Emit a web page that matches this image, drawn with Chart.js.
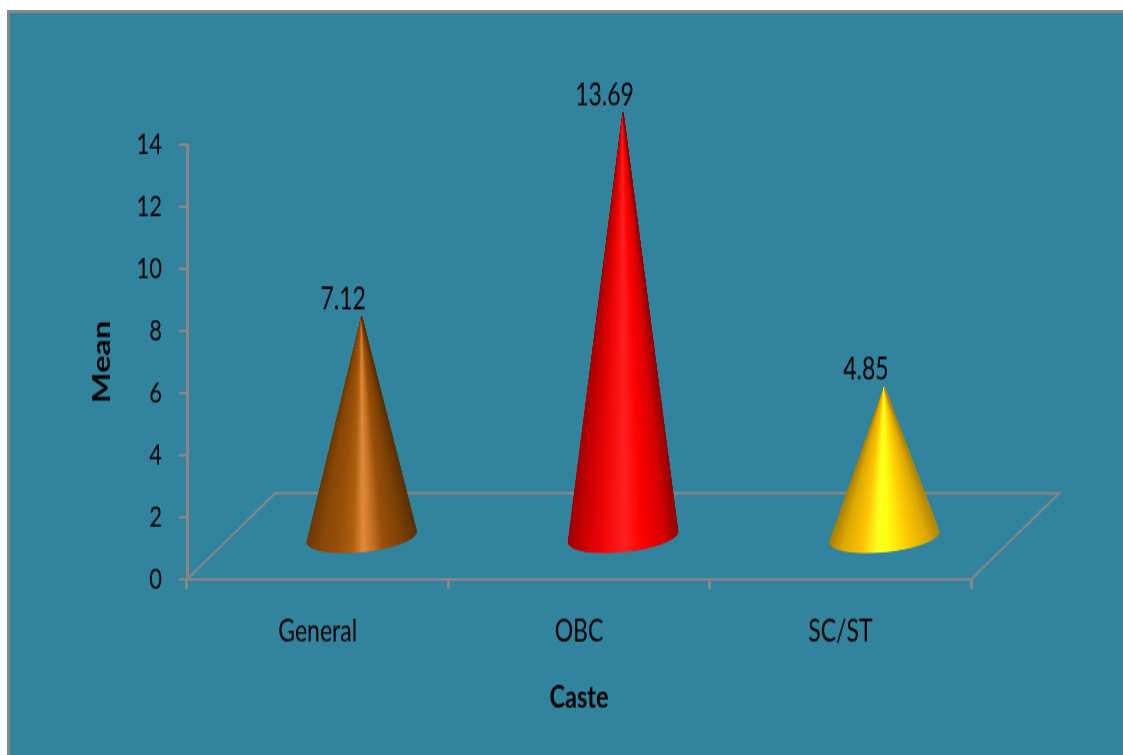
<!DOCTYPE html>
<html>
<head>
<meta charset="utf-8">
<title>Mean by caste</title>
<script src="https://cdn.jsdelivr.net/npm/chart.js@4"></script>
<style>
    html, body { margin: 0; padding: 0; background: #fff; overflow: hidden; }
    #panel {
        position: absolute; left: 7px; top: 10px; right: 0; bottom: 0;
        background: #31839e;
        border-left: 3px solid #868686;
        border-top: 3px solid #868686;
    }
    /* the whole chart is drawn wide and then pulled taller */
    #chart { position: absolute; left: 0; top: 0; transform: scaleY(1.3506); transform-origin: 0 0; }
</style>
</head>
<body>
<div id="panel"></div>
<canvas id="chart" width="1123" height="559"></canvas>
<script>
const categories = ['General', 'OBC', 'SC/ST'];
const means = [7.12, 13.69, 4.85];
const yMax = 14;
const yStep = 2;

const AXIS_COLOR = '#868686';
const FONT = 'Lato, sans-serif';

// shading across each cone, left edge to right edge
const coneRamps = [
    [[0, '#6e3803'], [0.12, '#8a4706'], [0.3, '#9c5008'], [0.42, '#b0600f'], [0.52, '#e08a3a'], [0.6, '#c87222'], [0.7, '#9c5008'], [0.88, '#7d4005'], [1, '#5f3002']],
    [[0, '#a00000'], [0.15, '#d00000'], [0.35, '#f80808'], [0.52, '#ff2020'], [0.68, '#ff0000'], [0.88, '#d80000'], [1, '#980000']],
    [[0, '#a88000'], [0.12, '#e0a800'], [0.3, '#ffc400'], [0.44, '#ffff20'], [0.54, '#ffff10'], [0.72, '#ffcc00'], [0.9, '#e0a800'], [1, '#b08800']]
];

function hexToRgb(hex) {
    return [1, 3, 5].map(i => parseInt(hex.slice(i, i + 2), 16));
}

function rampColor(ramp, u) {
    let i = 1;
    while (i < ramp.length - 1 && ramp[i][0] < u) i++;
    const [u0, c0] = ramp[i - 1];
    const [u1, c1] = ramp[i];
    const k = Math.min(1, Math.max(0, (u - u0) / (u1 - u0)));
    const a = hexToRgb(c0), b = hexToRgb(c1);
    return `rgb(${a.map((v, n) => Math.round(v + (b[n] - v) * k)).join(',')})`;
}

// the floor sits behind the axes; cones stand about half way back on it
function floorDepth(chart) {
    const band = chart.scales.x.width / categories.length;
    return { dx: band * 0.337, dy: chart.scales.y.height * 0.198 };
}

const floorPlugin = {
    id: 'floor',
    beforeDatasetsDraw(chart) {
        const { ctx, chartArea: a } = chart;
        const d = floorDepth(chart);
        ctx.save();
        ctx.strokeStyle = AXIS_COLOR;
        ctx.lineWidth = 2;
        ctx.beginPath();
        ctx.moveTo(a.left, a.bottom);
        ctx.lineTo(a.left + d.dx, a.bottom - d.dy);
        ctx.lineTo(a.right + d.dx, a.bottom - d.dy);
        ctx.lineTo(a.right, a.bottom);
        ctx.stroke();
        ctx.restore();
    }
};

const conePlugin = {
    id: 'cones',
    afterDatasetsDraw(chart) {
        const { ctx } = chart;
        const d = floorDepth(chart);
        const bars = chart.getDatasetMeta(0).data;
        const tilt = -0.074;
        bars.forEach((bar, i) => {
            const lift = d.dy * 0.48;
            const cx = bar.x + d.dx / 2;
            const cy = bar.base - lift;
            const tipY = bar.y - lift;
            const rx = bar.width / 2;
            const ry = rx * 0.2;
            const ramp = coneRamps[i];
            const steps = 70;
            const pointAt = t => {
                const ex = rx * Math.cos(t), ey = ry * Math.sin(t);
                return [cx + ex * Math.cos(tilt) - ey * Math.sin(tilt),
                        cy + ex * Math.sin(tilt) + ey * Math.cos(tilt)];
            };
            // thin slices from the tip to the near half of the base
            ctx.save();
            for (let s = 0; s < steps; s++) {
                const t0 = Math.PI - Math.PI * s / steps;
                const t1 = Math.PI - Math.PI * (s + 1) / steps;
                const p0 = pointAt(t0), p1 = pointAt(t1);
                const u = ((p0[0] + p1[0]) / 2 - (cx - rx)) / (2 * rx);
                const col = rampColor(ramp, u);
                ctx.fillStyle = col;
                ctx.strokeStyle = col;
                ctx.lineWidth = 1;
                ctx.beginPath();
                ctx.moveTo(cx, tipY);
                ctx.lineTo(p0[0], p0[1]);
                ctx.lineTo(p1[0], p1[1]);
                ctx.closePath();
                ctx.fill();
                ctx.stroke();
            }
            ctx.restore();

            // value above the tip
            ctx.save();
            ctx.fillStyle = '#000';
            ctx.font = `23px ${FONT}`;
            ctx.textAlign = 'center';
            ctx.textBaseline = 'middle';
            ctx.fillText(means[i].toFixed(2), cx - 18.5, tipY - 13);
            ctx.restore();
        });
    }
};

new Chart(document.getElementById('chart').getContext('2d'), {
    type: 'bar',
    data: {
        labels: categories,
        datasets: [{
            label: 'Mean',
            data: means,
            backgroundColor: 'rgba(0,0,0,0)',
            borderWidth: 0,
            barPercentage: 0.42,
            categoryPercentage: 1
        }]
    },
    plugins: [floorPlugin, conePlugin],
    options: {
        responsive: false,
        animation: false,
        layout: { padding: { left: 88, right: 152, top: 107, bottom: 28 } },
        plugins: { legend: { display: false }, tooltip: { enabled: false } },
        scales: {
            x: {
                afterFit(scale) { scale.height = 102; },
                grid: { drawOnChartArea: false, color: AXIS_COLOR, lineWidth: 3, tickLength: 7 },
                border: { color: AXIS_COLOR, width: 2 },
                ticks: { color: '#000', font: { family: FONT, size: 23 }, padding: 18, maxRotation: 0 },
                title: { display: true, text: 'Caste', color: '#000', padding: 0, font: { family: FONT, size: 23.5, weight: 'bold' } }
            },
            y: {
                min: 0,
                max: yMax,
                afterFit(scale) { scale.width = 99; },
                grid: { drawOnChartArea: false, color: AXIS_COLOR, lineWidth: 2, tickLength: 8 },
                border: { color: AXIS_COLOR, width: 3 },
                ticks: { stepSize: yStep, color: '#000', font: { family: FONT, size: 22 }, padding: 17 },
                title: { display: true, text: 'Mean', color: '#000', padding: 0, font: { family: FONT, size: 24, weight: 'bold' } }
            }
        }
    }
});
</script>
</body>
</html>
